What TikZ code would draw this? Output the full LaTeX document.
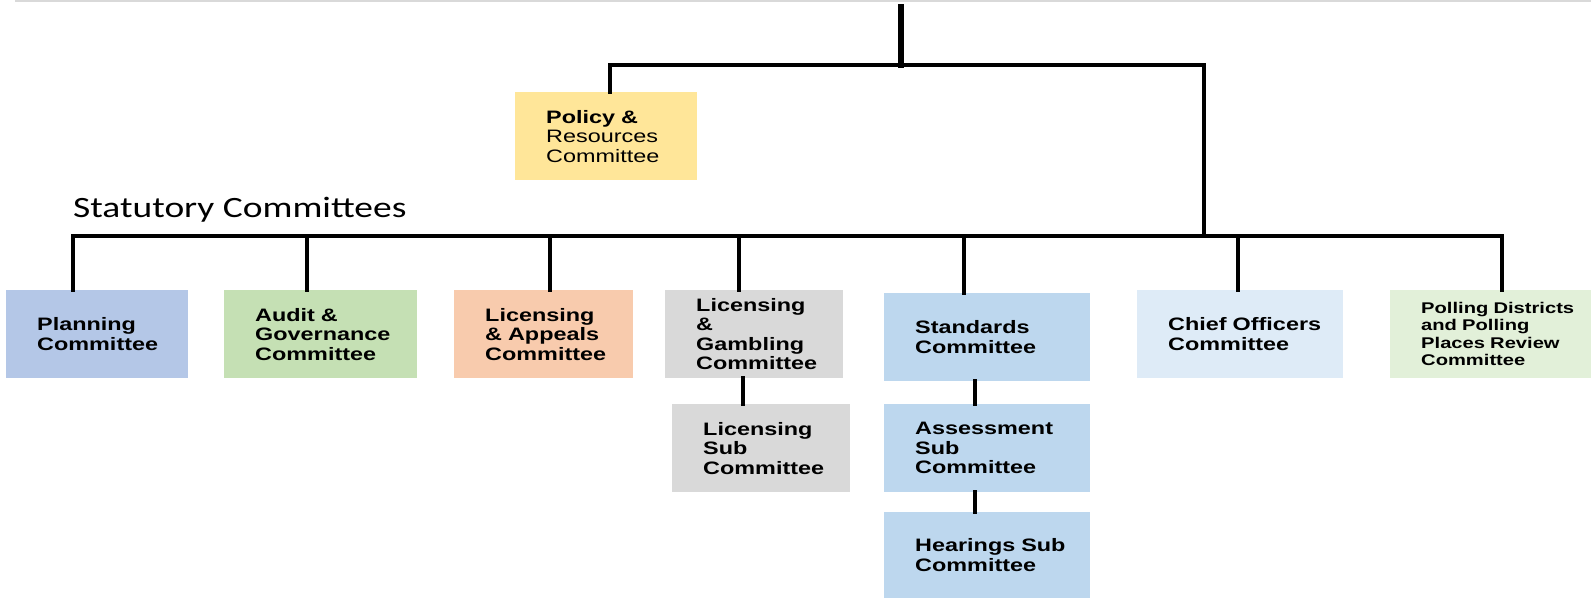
\documentclass[tikz,border=0pt]{standalone}
\usepackage{fontspec}
\setmainfont[FakeStretch=1.3]{Liberation Sans}
\newfontfamily\titlefont[FakeStretch=1.27]{Carlito}

\definecolor{polyellow}{HTML}{FFE699}
\definecolor{planblue}{HTML}{B4C7E7}
\definecolor{auditgreen}{HTML}{C5E0B4}
\definecolor{appealorange}{HTML}{F8CBAD}
\definecolor{licgray}{HTML}{D9D9D9}
\definecolor{stdblue}{HTML}{BDD7EE}
\definecolor{chiefblue}{HTML}{DEEBF7}
\definecolor{pollgreen}{HTML}{E2F0D9}
\definecolor{rulegray}{HTML}{D9D9D9}

\newcommand{\boxfont}{\fontsize{18}{19.5}\selectfont\hyphenpenalty=10000\relax}
\newcommand{\pollfont}{\fontsize{15.5}{17.5}\selectfont\hyphenpenalty=10000\relax}

\tikzset{
  cbox/.style={rectangle, fill=#1, anchor=north west, inner xsep=31pt, inner ysep=0pt,
    minimum height=88pt, align=left, font=\boxfont\bfseries},
  link/.style={line width=4pt, line cap=rect},
}

\begin{document}
\begin{tikzpicture}[x=1pt, y=-1pt]
\useasboundingbox (0,0) rectangle (1591,598);

% 顶部灰线
\draw[rulegray, line width=2pt] (15,1) -- (1591,1);

% 委员会方框
\node[cbox=polyellow, text width=120pt, font=\boxfont] (policy) at (515,92)
  {\textbf{Policy \&}\\Resources\\Committee};
\node[cbox=planblue, text width=120pt] (planning) at (6,290) {Planning\\Committee};
\node[cbox=auditgreen, text width=131pt] (audit) at (224,290) {Audit \&\\Governance\\Committee};
\node[cbox=appealorange, text width=117pt] (licappeals) at (454,290) {Licensing\\\& Appeals\\Committee};
\node[cbox=licgray, text width=116pt] (licgambling) at (665,290) {Licensing\\\&\\Gambling\\Committee};
\node[cbox=licgray, text width=116pt] (licsub) at (672,404) {Licensing\\Sub\\Committee};
\node[cbox=stdblue, text width=144pt] (standards) at (884,293) {Standards\\Committee};
\node[cbox=stdblue, text width=144pt] (assess) at (884,404) {Assessment\\Sub\\Committee};
\node[cbox=stdblue, text width=144pt, minimum height=86pt] (hearings) at (884,512) {Hearings~Sub\\Committee};
\node[cbox=chiefblue, text width=144pt] (chief) at (1137,290) {Chief~Officers\\Committee};
\node[cbox=pollgreen, text width=139pt, font=\pollfont\bfseries] (polling) at (1390,290)
  {Polling~Districts\\and~Polling\\Places~Review\\Committee};

% 标题
\node[anchor=base west, inner sep=0pt, font=\titlefont\fontsize{29.5}{32}\selectfont] (stat) at (73,217)
  {Statutory Committees};

% 定义连线端点
\coordinate (apex) at (901,4);
\coordinate (hub) at (901,65);
\coordinate (drop) at (1204,236);
\coordinate (bar-l) at (73,236);
\coordinate (bar-r) at (1501,236);

% 上层连线
\draw[line width=6pt] (apex) -- ([yshift=-3pt]hub);
\draw[link] ([xshift=4pt]policy.north) |- (hub) -| (drop);
\draw[link] (bar-l) -- (bar-r);

% 法定委员会分支
\foreach \n/\dx in {planning/-24, audit/-14, licappeals/6, licgambling/-15, standards/-23, chief/-2, polling/11}
  \draw[link] ([xshift=\dx pt]\n.north) -- ([xshift=\dx pt]\n.north |- bar-l);

% 下属委员会
\draw[link] ([xshift=-11pt]licgambling.south) -- ([xshift=-11pt]licgambling.south |- licsub.north);
\draw[link] ([xshift=-12pt]standards.south) -- ([xshift=-12pt]standards.south |- assess.north);
\draw[link] ([xshift=-12pt]assess.south) -- ([xshift=-12pt]assess.south |- hearings.north);
\end{tikzpicture}
\end{document}
